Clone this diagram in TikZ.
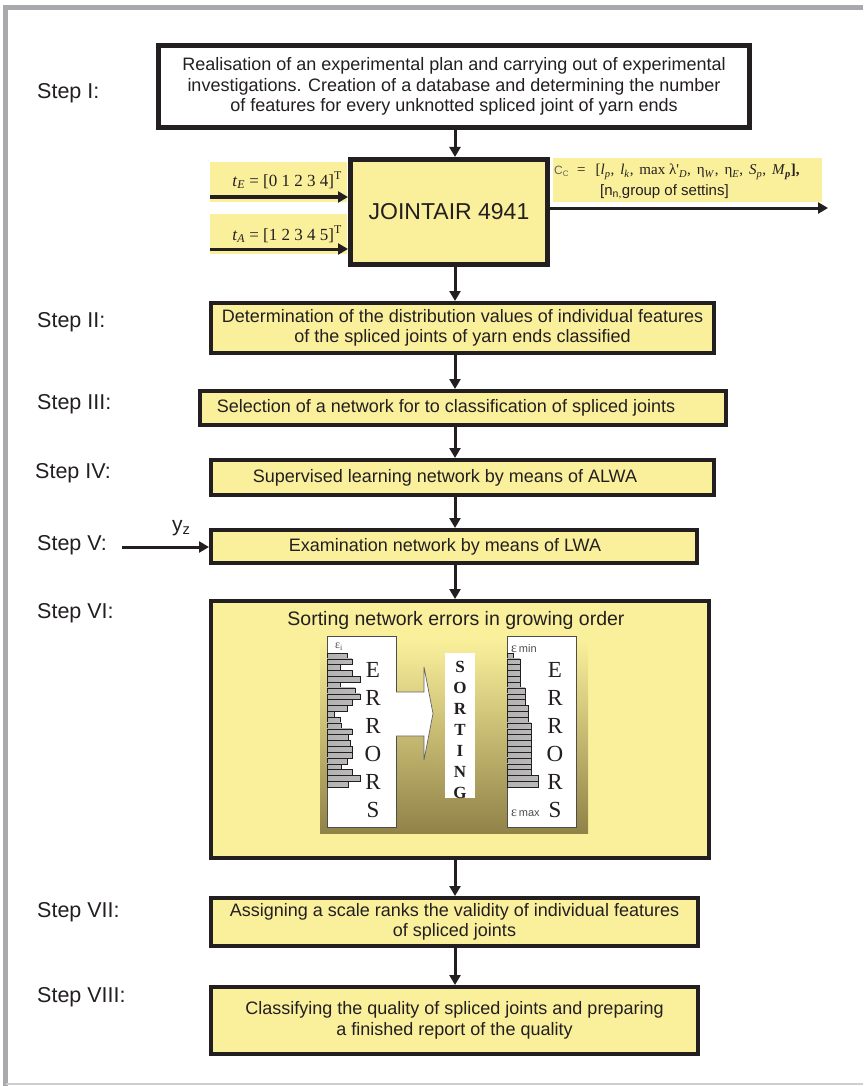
\documentclass[tikz,border=0pt]{standalone}
\usepackage{fontspec}
\setmainfont{Liberation Sans}
\newfontfamily\tms{Liberation Serif}
\usetikzlibrary{arrows.meta}
\definecolor{yel}{RGB}{250,240,155}
\definecolor{ink}{RGB}{35,31,32}
\definecolor{frame}{RGB}{167,169,172}
\definecolor{framelt}{RGB}{205,206,208}
\definecolor{olive}{RGB}{145,130,72}
\tikzset{
  boxtext/.style={font=\fontsize{18}{20.5}\selectfont, text=ink, align=center},
  stepbox/.style={draw=ink, fill=yel, line width=4pt, inner sep=0pt, boxtext},
  steplabel/.style={anchor=base west, inner sep=0pt, text=ink, font=\fontsize{21.5}{24}\selectfont},
  arr/.style={draw=ink, line width=3pt, -{Triangle[length=10pt,width=11pt]}},
  strip/.style={fill=yel, inner sep=0pt, anchor=north west},
  panel/.style={draw=ink!80, fill=white, line width=0.7pt},
  bigletter/.style={inner sep=0pt, text=ink, font=\tms\fontsize{23}{23}\selectfont},
  sortletter/.style={inner sep=0pt, text=ink, font=\tms\bfseries\fontsize{17}{17}\selectfont},
  bar/.style={left color=gray!60, middle color=white, right color=gray!55, draw=ink, line width=0.5pt}
}
\begin{document}
\begin{tikzpicture}[x=1pt,y=-1pt]
\useasboundingbox (0,0) rectangle (863,1086);
% frame
\draw[frame, line width=5pt] (5.5,1086) -- (5.5,7.5) -- (863,7.5);
\draw[framelt, line width=1.5pt] (5.5,1084) -- (863,1084);

% step labels
\node[steplabel] (l1) at (37,99) {Step I:};
\node[steplabel] (l2) at (37,327) {Step II:};
\node[steplabel] (l3) at (37,409) {Step III:};
\node[steplabel] (l4) at (35,478) {Step IV:};
\node[steplabel] (l5) at (37,550) {Step V:};
\node[steplabel] (l6) at (37,618) {Step VI:};
\node[steplabel] (l7) at (37,917) {Step VII:};
\node[steplabel] (l8) at (37,1002) {Step VIII:};

% Step I box
\node[draw=ink, fill=white, line width=5pt, inner sep=0pt, boxtext, minimum width=591pt, minimum height=82pt] (s1) at (454,86.5)
  {Realisation of an experimental plan and carrying out of experimental\\investigations. Creation of a database and determining the number\\of features for every unknotted spliced joint of yarn ends};

% input strips
\node[strip, minimum width=137pt, minimum height=40pt] (stE) at (210,162) {};
\node[strip, minimum width=137pt, minimum height=40pt] (stA) at (210,214) {};
\node[anchor=base east, inner sep=0pt, text=ink, font=\tms\fontsize{17}{17}\selectfont] (tE) at (342,186)
  {\textit{t}\textsubscript{\textit{E}} = [0 1 2 3 4]\textsuperscript{T}};
\node[anchor=base east, inner sep=0pt, text=ink, font=\tms\fontsize{17}{17}\selectfont] (tA) at (342,240)
  {\textit{t}\textsubscript{\textit{A}} = [1 2 3 4 5]\textsuperscript{T}};

% JOINTAIR
\node[draw=ink, fill=yel, line width=5pt, inner sep=0pt, text=ink, font=\fontsize{23}{23}\selectfont, minimum width=197pt, minimum height=105pt] (joint) at (449,212) {JOINTAIR 4941};

% Cc box
\node[strip, minimum width=269pt, minimum height=44pt] (cc) at (553,158) {};
\node[anchor=base west, inner sep=0pt, text=ink, font=\tms\fontsize{15}{15}\selectfont] (cc1) at (554,175)
  {{\rmfamily\fontsize{12}{12}\selectfont\color{ink!70}C\textsubscript{C}}\hspace{8pt}=\hspace{10pt}[\textit{l}\textsubscript{\textit{p}},\hspace{6pt}\textit{l}\textsubscript{\textit{k}},\hspace{6pt}max λ'\textsubscript{\textit{D}},\hspace{6pt}η\textsubscript{\textit{W}},\hspace{6pt}η\textsubscript{\textit{E}},\hspace{6pt}\textit{S}\textsubscript{\textit{p}},\hspace{6pt}\textit{M}\textsubscript{\textbf{\textit{p}}}\textbf{],}};
\node[anchor=base west, inner sep=0pt, text=ink, font=\fontsize{15}{15}\selectfont] (cc2) at (600,195)
  {[n\textsubscript{n,}group of settins]};

% Steps II-V
\node[stepbox, minimum width=503pt, minimum height=50pt] (s2) at (462.5,328)
  {Determination of the distribution values of individual features\\of the spliced joints of yarn ends classified};
\node[stepbox, minimum width=526pt, minimum height=34pt] (s3) at (463,408)
  {\hspace*{-34pt}Selection of a network for to classification of spliced joints};
\node[stepbox, minimum width=503pt, minimum height=35pt] (s4) at (462.5,477.5)
  {\hspace*{-35pt}Supervised learning network by means of ALWA};
\node[stepbox, minimum width=486pt, minimum height=33pt] (s5) at (454,546.5)
  {\hspace*{-18pt}Examination network by means of LWA};

% Step VI
\node[stepbox, minimum width=498pt, minimum height=257pt] (s6) at (460,729.5) {};
\node[inner sep=0pt, text=ink, font=\fontsize{19.5}{20}\selectfont] (s6t) at (456,620) {Sorting network errors in growing order};
\shade[top color=yel, bottom color=olive] (320,640) rectangle (588,833);
\node[panel, minimum width=69pt, minimum height=191pt, inner sep=0pt, anchor=north west] (pl) at (327,636) {};
\node[panel, minimum width=69pt, minimum height=191pt, inner sep=0pt, anchor=north west] (pr) at (507,636) {};
\node[fill=white, minimum width=30pt, minimum height=145pt, inner sep=0pt, anchor=north west] (ps) at (445,653) {};
\draw[fill=white, draw=ink!70, line width=0.7pt] (396,692) -- (424,692) -- (424,667) -- (433,713.5) -- (424,760) -- (424,736) -- (396,736);
% bars left
\foreach \len [count=\i] in {20,25,13,25,33,13,28,33,25,20,7,13,14,25,21,23,25,25,20,14,25,33,21}{
  \path[bar] ({327},{653+(\i-1)*5.83}) rectangle ++(\len,5.83);
}
% bars right
\foreach \len [count=\i] in {6,13,13,13,13,13,18,18,18,21,21,21,24,24,24,24,24,24,24,24,24,31,31}{
  \path[bar] ({507},{653+(\i-1)*5.83}) rectangle ++(\len,5.83);
}
\foreach \ch [count=\i] in {E,R,R,O,R,S}{
  \node[bigletter] (eL\i) at ({373},{670+(\i-1)*28}) {\ch};
  \node[bigletter] (eR\i) at ({555},{670+(\i-1)*28}) {\ch};
}
\foreach \ch [count=\i] in {S,O,R,T,I,N,G}{
  \node[sortletter] (so\i) at ({460},{667+(\i-1)*21}) {\ch};
}
\node[inner sep=0pt, text=ink!80, font=\tms\fontsize{12}{12}\selectfont] (epsi) at (339,647) {ε\textsubscript{i}};
\node[inner sep=0pt, text=ink!80, anchor=west, font=\tms\fontsize{14}{14}\selectfont] (epsmin) at (511,649) {ε{\rmfamily\fontsize{11}{11}\selectfont\,min}};
\node[inner sep=0pt, text=ink!80, anchor=west, font=\tms\fontsize{14}{14}\selectfont] (epsmax) at (511,813) {ε{\rmfamily\fontsize{11}{11}\selectfont\,max}};

% Steps VII-VIII
\node[stepbox, minimum width=487pt, minimum height=48pt] (s7) at (454.5,922)
  {Assigning a scale ranks the validity of individual features\\of spliced joints};
\node[stepbox, minimum width=487pt, minimum height=67pt] (s8) at (454.5,1020.5)
  {Classifying the quality of spliced joints and preparing\\a finished report of the quality};

% connectors
\coordinate (ax) at (455,0);
\draw[arr] (s1.south -| ax) -- (joint.north -| ax);
\draw[arr] (joint.south -| ax) -- (s2.north -| ax);
\draw[arr] (s2.south -| ax) -- (s3.north -| ax);
\draw[arr] (s3.south -| ax) -- (s4.north -| ax);
\draw[arr] (s4.south -| ax) -- (s5.north -| ax);
\draw[arr] (s5.south -| ax) -- (s6.north -| ax);
\draw[arr] (s6.south -| ax) -- (s7.north -| ax);
\draw[arr] (s7.south -| ax) -- (s8.north -| ax);
\coordinate (inE) at (210,197);
\coordinate (inA) at (210,249);
\draw[arr] (inE) -- (inE -| joint.west);
\draw[arr] (inA) -- (inA -| joint.west);
\coordinate (ccend) at (828,208);
\draw[arr] (ccend -| joint.east) -- (ccend);
\coordinate (yzs) at (122,547);
\draw[arr] (yzs) -- (yzs -| s5.west);
\node[anchor=base west, inner sep=0pt, text=ink, font=\fontsize{21}{21}\selectfont] (yz) at (172,531) {y\textsubscript{z}};
\end{tikzpicture}
\end{document}
